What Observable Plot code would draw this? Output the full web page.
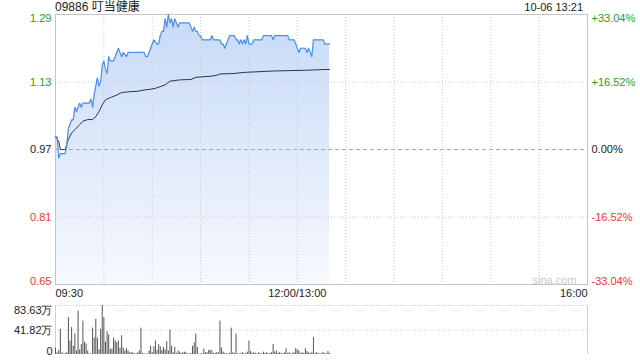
<!DOCTYPE html>
<html><head><meta charset="utf-8">
<script src="https://cdn.jsdelivr.net/npm/d3@7"></script>
<script src="https://cdn.jsdelivr.net/npm/@observablehq/plot@0.6"></script>
<style>
body{margin:0;background:#fff;}
#wrap{position:relative;width:640px;height:360px;overflow:hidden;font-family:"Liberation Sans",Arial,sans-serif;background:#fff;}
#title{position:absolute;left:55px;top:0px;font-size:12px;line-height:14px;color:#222;font-family:"Liberation Sans","Noto Sans CJK SC",sans-serif;white-space:nowrap;}
#date{position:absolute;right:57px;top:0px;font-size:11px;line-height:15px;color:#222;white-space:nowrap;}
#main{position:absolute;left:0;top:0;}
#vol{position:absolute;left:0;top:296px;}
</style></head>
<body><div id="wrap"><div id="main"></div><div id="vol"></div><div id="title"></div><div id="date"></div></div>
<script>
const stockCode = "09886";
const stockName = "叮当健康";
const timestamp = "10-06 13:21";
const prevClose = 0.97;
const priceTicks = [1.29, 1.13, 0.97, 0.81, 0.65];
const pctTicks = ["+33.04%", "+16.52%", "0.00%", "-16.52%", "-33.04%"];
const gridMinutes = [30, 60, 90, 120, 150, 180, 210, 240, 270, 300];
const timeTickMinutes = [0, 150, 330];
const timeTickLabels = ["09:30", "12:00/13:00", "16:00"];

// minutes since 09:30 (lunch break removed)
const priceMinutes = [0,1,2,3,6,7,8,9,10,11,12,13,14,15,16,17,21,22,23,24,25,26,27,28,29,30,31,32,33,34,36,37,38,39,40,41,42,44,45,55,56,57,58,59,60,61,63,64,65,66,67,68,69,70,71,72,73,74,75,76,77,83,84,85,86,87,88,89,90,91,96,97,98,102,103,104,105,106,107,108,111,112,113,114,115,116,117,118,119,120,122,123,128,129,134,135,136,144,145,148,149,150,151,152,155,156,157,158,159,160,166,167,170];
const prices = [1.00,1.00,0.95,0.96,0.96,0.98,1.02,1.03,1.04,1.04,1.07,1.06,1.07,1.08,1.07,1.08,1.08,1.09,1.07,1.10,1.12,1.14,1.12,1.13,1.17,1.18,1.16,1.15,1.19,1.18,1.18,1.19,1.20,1.21,1.20,1.19,1.20,1.19,1.20,1.20,1.19,1.19,1.20,1.21,1.22,1.23,1.22,1.22,1.24,1.25,1.25,1.28,1.26,1.29,1.27,1.28,1.26,1.28,1.27,1.26,1.27,1.27,1.26,1.25,1.26,1.25,1.25,1.24,1.24,1.23,1.23,1.24,1.23,1.23,1.22,1.22,1.21,1.22,1.23,1.24,1.24,1.23,1.23,1.22,1.23,1.22,1.23,1.22,1.24,1.22,1.22,1.23,1.23,1.24,1.24,1.23,1.24,1.24,1.23,1.23,1.22,1.21,1.20,1.21,1.21,1.20,1.21,1.20,1.19,1.23,1.23,1.22,1.22];

const avgMinutes = [0,2,3,6,8,10,12,15,17,20,23,25,27,29,31,34,38,41,46,51,55,59,62,68,71,77,84,87,97,100,102,110,118,135,156,170];
const avgPrices = [1.000,0.990,0.970,0.970,0.994,1.009,1.017,1.029,1.037,1.041,1.041,1.048,1.060,1.076,1.088,1.093,1.099,1.105,1.107,1.108,1.111,1.113,1.115,1.123,1.132,1.135,1.136,1.141,1.144,1.146,1.149,1.150,1.153,1.156,1.158,1.160];

// volume per minute (万股), from 09:30
const volumes = [11,3,7,43,3,1,2,3,63,23,46,14,35,6,74,8,17,57,21,18,6,1,1,45,28,60,28,8,43,83.63,63,21,39,33,9,9,28,23,20,23,11,32,11,6,10,6,3,3,3,1,1,3,6,45,2,1,1,1,6,14,3,13,23,7,17,13,7,12,8,22,6,42,14,3,12,2,6,4,2,3,4,3,1,1,2,14,20,35,12,1,1,1,9,3,3,7,7,6,2,2,3,3,57,11,4,2,1,1,2,45,3,2,35,1,1,2,3,1,2,4,23,5,2,3,2,1,3,2,1,4,2,3,1,2,3,17,4,6,2,3,2,1,3,10,2,3,1,2,3,10,8,6,2,3,2,10,5,3,2,3,29,2,3,2,1,2,3,2,1,5,2];
const volTicks = [83.63, 41.82, 0];
const volTickLabels = ["83.63万", "41.82万", "0"];

document.getElementById("title").textContent = stockCode + " " + stockName;
document.getElementById("date").textContent = timestamp;

const up = "#1e9f1e", down = "#f03535", flat = "#222";
const colorOf = v => v > prevClose + 1e-9 ? up : v < prevClose - 1e-9 ? down : flat;
const priceData = priceMinutes.map((t, i) => ({t, p: prices[i]}));
const avgData = avgMinutes.map((t, i) => ({t, p: avgPrices[i]}));
const yMin = d3.min(priceTicks), yMax = d3.max(priceTicks);
const last = priceTicks.length - 1;

const defs = () => {
  const g = d3.create("svg:defs");
  const lg = g.append("linearGradient").attr("id", "areaGrad").attr("x1", 0).attr("y1", 0).attr("x2", 0).attr("y2", 1);
  lg.append("stop").attr("offset", "0%").attr("stop-color", "#c7daf7");
  lg.append("stop").attr("offset", "100%").attr("stop-color", "#f6f9fe");
  return g.node();
};

const fontStyle = {background: "transparent", fontFamily: "'Liberation Sans', Arial, sans-serif", fontSize: "11px", overflow: "visible"};

const main = Plot.plot({
  width: 640, height: 300,
  marginTop: 14, marginBottom: 16, marginLeft: 55, marginRight: 53,
  style: fontStyle,
  x: {domain: [0, 330], axis: null},
  y: {domain: [yMin, yMax], axis: null},
  color: {type: "identity"},
  marks: [
    defs,
    Plot.areaY(priceData, {x: "t", y1: yMin, y2: "p", fill: "url(#areaGrad)"}),
    Plot.ruleX(gridMinutes, {stroke: "#c8c8c8", strokeDasharray: "1,2"}),
    Plot.ruleY(priceTicks.filter((d, i) => i > 0 && i < last && d !== prevClose), {stroke: "#c8c8c8", strokeDasharray: "1,2"}),
    Plot.ruleY([prevClose], {stroke: "#a8a8a8", strokeDasharray: "4,3"}),
    Plot.frame({stroke: "#c4c4c4"}),
    Plot.line(avgData, {x: "t", y: "p", stroke: "#2f3640", strokeWidth: 1}),
    Plot.line(priceData, {x: "t", y: "p", stroke: "#4b8ef0", strokeWidth: 1.2}),
    // left price labels
    Plot.text(priceTicks, {filter: (d, i) => i === 0, y: d => d, text: d => d.toFixed(2), frameAnchor: "left", textAnchor: "end", dx: -4, lineAnchor: "top", fill: d => colorOf(d)}),
    Plot.text(priceTicks, {filter: (d, i) => i > 0 && i < last, y: d => d, text: d => d.toFixed(2), frameAnchor: "left", textAnchor: "end", dx: -4, lineAnchor: "middle", fill: d => colorOf(d)}),
    Plot.text(priceTicks, {filter: (d, i) => i === last, y: d => d, text: d => d.toFixed(2), frameAnchor: "left", textAnchor: "end", dx: -4, lineAnchor: "bottom", fill: d => colorOf(d)}),
    // right pct labels
    Plot.text(pctTicks, {filter: (d, i) => i === 0, y: (d, i) => priceTicks[i], text: d => d, frameAnchor: "right", textAnchor: "start", dx: 4, lineAnchor: "top", fill: (d, i) => colorOf(priceTicks[i])}),
    Plot.text(pctTicks, {filter: (d, i) => i > 0 && i < last, y: (d, i) => priceTicks[i], text: d => d, frameAnchor: "right", textAnchor: "start", dx: 4, lineAnchor: "middle", fill: (d, i) => colorOf(priceTicks[i])}),
    Plot.text(pctTicks, {filter: (d, i) => i === last, y: (d, i) => priceTicks[i], text: d => d, frameAnchor: "right", textAnchor: "start", dx: 4, lineAnchor: "bottom", fill: (d, i) => colorOf(priceTicks[i])}),
    // time labels
    Plot.text(timeTickLabels, {filter: (d, i) => i === 0, x: (d, i) => timeTickMinutes[i], text: d => d, frameAnchor: "bottom", dy: 12, textAnchor: "start", fill: "#222"}),
    Plot.text(timeTickLabels, {filter: (d, i) => i === 1, x: (d, i) => timeTickMinutes[i], text: d => d, frameAnchor: "bottom", dy: 12, textAnchor: "middle", fill: "#222"}),
    Plot.text(timeTickLabels, {filter: (d, i) => i === 2, x: (d, i) => timeTickMinutes[i], text: d => d, frameAnchor: "bottom", dy: 12, textAnchor: "end", fill: "#222"}),
    Plot.text(["sina.com"], {frameAnchor: "bottom-right", textAnchor: "end", lineAnchor: "bottom", dx: -11, dy: -1, fill: "#c8c8c8", fontSize: 11})
  ]
});
document.getElementById("main").appendChild(main);

const vol = Plot.plot({
  width: 640, height: 64,
  marginTop: 9, marginBottom: 6, marginLeft: 55, marginRight: 53,
  style: fontStyle,
  x: {domain: [0, 330], axis: null},
  y: {domain: [0, d3.max(volTicks)], axis: null},
  marks: [
    Plot.ruleY(volTicks.filter(d => d > 0), {stroke: "#c8c8c8", strokeDasharray: "1,2"}),
    Plot.ruleX([0, 330], {stroke: "#d0d0d0"}),
    Plot.ruleX(volumes, {x: (d, i) => i, y1: 0, y2: d => d, stroke: "#555", strokeWidth: 1}),
    Plot.text(volTickLabels, {filter: (d, i) => i === 0, y: (d, i) => volTicks[i], text: d => d, frameAnchor: "left", textAnchor: "end", dx: -3, lineAnchor: "top", dy: 1, fill: "#222"}),
    Plot.text(volTickLabels, {filter: (d, i) => i === 1, y: (d, i) => volTicks[i], text: d => d, frameAnchor: "left", textAnchor: "end", dx: -3, lineAnchor: "middle", fill: "#222"}),
    Plot.text(volTickLabels, {filter: (d, i) => i === 2, y: (d, i) => volTicks[i], text: d => d, frameAnchor: "left", textAnchor: "end", dx: -3, lineAnchor: "bottom", fill: "#222"})
  ]
});
document.getElementById("vol").appendChild(vol);
</script>
</body></html>
